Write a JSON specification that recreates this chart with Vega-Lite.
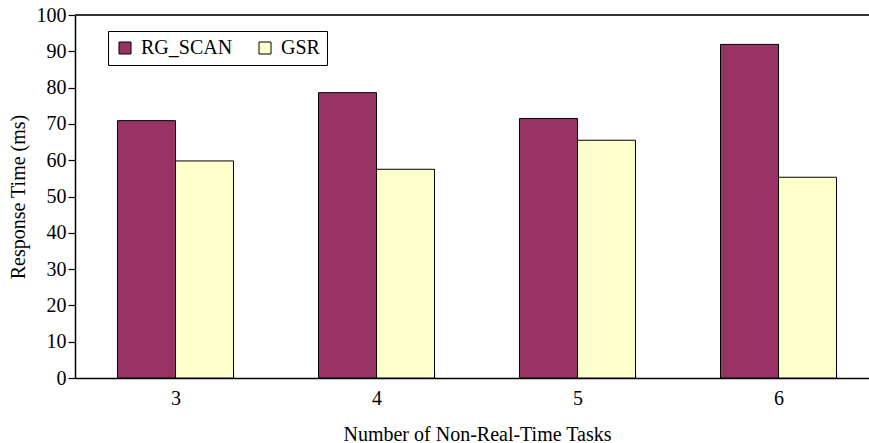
{
  "$schema": "https://vega.github.io/schema/vega-lite/v6.json",
  "width": 794,
  "height": 363,
  "autosize": {"type": "none"},
  "padding": {"left": 75, "top": 15, "right": 0, "bottom": 65},
  "background": "white",
  "config": {
    "font": "Liberation Serif, Times New Roman, serif",
    "view": {"stroke": null},
    "axis": {"grid": false, "labelFont": "Liberation Serif, Times New Roman, serif", "titleFont": "Liberation Serif, Times New Roman, serif", "labelFontSize": 20, "titleFontSize": 20, "titleFontWeight": "normal", "labelColor": "#000", "titleColor": "#000", "domainColor": "#000", "tickColor": "#000", "domainWidth": 1.5, "tickWidth": 1.2, "labelOverlap": false},
    "legend": {"strokeColor": "#000", "fillColor": "#fff", "padding": 7}
  },
  "data": {
    "values": [
      {"tasks": "3", "method": "RG_SCAN", "value": 70.9},
      {"tasks": "3", "method": "GSR", "value": 59.8},
      {"tasks": "4", "method": "RG_SCAN", "value": 78.6},
      {"tasks": "4", "method": "GSR", "value": 57.5},
      {"tasks": "5", "method": "RG_SCAN", "value": 71.5},
      {"tasks": "5", "method": "GSR", "value": 65.5},
      {"tasks": "6", "method": "RG_SCAN", "value": 91.9},
      {"tasks": "6", "method": "GSR", "value": 55.3}
    ]
  },
  "layer": [
    {
      "mark": {"type": "bar", "stroke": "#000", "strokeWidth": 1},
      "encoding": {
        "x": {
          "field": "tasks", "type": "nominal", "sort": ["3", "4", "5", "6"],
          "scale": {"range": [0, 804], "paddingInner": 0.423, "paddingOuter": 0.2115},
          "axis": {"title": "Number of Non-Real-Time Tasks", "labelAngle": 0, "tickBand": "extent", "tickSize": -7, "labelPadding": 17, "labelBaseline": "top", "titleY": 46, "titleBaseline": "top"}
        },
        "xOffset": {"field": "method", "type": "nominal", "sort": ["RG_SCAN", "GSR"], "scale": {"paddingInner": 0, "paddingOuter": 0}},
        "y": {
          "field": "value", "type": "quantitative",
          "scale": {"domain": [0, 100], "nice": false},
          "axis": {"title": "Response Time (ms)", "values": [0,10,20,30,40,50,60,70,80,90,100], "tickSize": 7, "labelPadding": 2, "titlePadding": 8, "labelOverlap": false}
        },
        "color": {
          "field": "method", "type": "nominal", "sort": ["RG_SCAN", "GSR"],
          "scale": {"domain": ["RG_SCAN", "GSR"], "range": ["#993366", "#FFFFCC"]},
          "legend": {
            "title": null, "orient": "none", "legendX": 33, "legendY": 16, "direction": "horizontal",
            "symbolType": "square", "symbolSize": 144, "symbolStrokeColor": "#000", "symbolStrokeWidth": 1, "symbolOpacity": 1,
            "labelFont": "Liberation Serif, Times New Roman, serif", "labelFontSize": 20, "labelColor": "#000", "labelOffset": 6,
            "columnPadding": 22
          }
        }
      }
    },
    {
      "mark": {"type": "rule", "color": "#333", "strokeWidth": 1.5},
      "encoding": {
        "y": {
          "datum": 100, "type": "quantitative",
          "scale": {"domain": [0, 100], "nice": false},
          "axis": {"title": "Response Time (ms)", "values": [0,10,20,30,40,50,60,70,80,90,100], "tickSize": 7, "labelPadding": 2, "titlePadding": 8, "labelOverlap": false}
        }
      }
    }
  ]
}
